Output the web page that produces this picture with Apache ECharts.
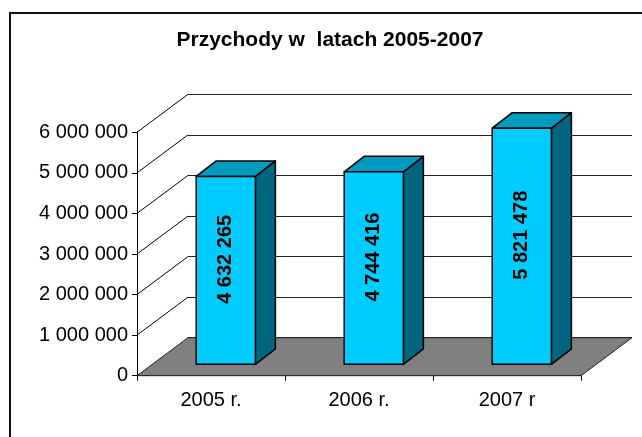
<!DOCTYPE html>
<html>
<head>
<meta charset="utf-8">
<script src="https://cdn.jsdelivr.net/npm/echarts@6/dist/echarts.min.js"></script>
<style>
html, body { margin: 0; padding: 0; background: #fff; }
#chart { width: 642px; height: 437px; }
</style>
</head>
<body>
<div id="chart"></div>
<script>
const categories = ['2005 r.', '2006 r.', '2007 r']
const revenue = [4632265, 4744416, 5821478]
const yTicks = [0, 1000000, 2000000, 3000000, 4000000, 5000000, 6000000]
const titleText = 'Przychody w  latach 2005-2007'

const FONT = '"Liberation Sans", Arial, sans-serif'
// depth of the floor / side wall
const WALL_DX = 51
const WALL_DY = -38
// depth of a bar, and how far its front face sits inside the box
const BAR_DX = 20
const BAR_DY = -15.5
const BAR_SX = 14.8
const BAR_SY = -11.4

function fmt(v) {
  return String(v).replace(/\B(?=(\d{3})+(?!\d))/g, ' ')
}

let chart = echarts.init(document.getElementById('chart'))

function renderFloor(params, api) {
  let cs = params.coordSys
  let y = api.coord([0, 0])[1]
  let x0 = cs.x
  let x1 = cs.x + cs.width
  return {
    type: 'polygon',
    shape: { points: [[x0, y], [x0 + WALL_DX, y + WALL_DY], [x1 + WALL_DX, y + WALL_DY], [x1, y]] },
    style: { fill: '#808080', stroke: '#222', lineWidth: 1 },
  }
}

function renderWall(params, api) {
  let y = api.coord([0, api.value(1)])[1]
  let x0 = params.coordSys.x
  return {
    type: 'line',
    shape: { x1: x0, y1: y, x2: x0 + WALL_DX, y2: y + WALL_DY },
    style: { stroke: '#000', lineWidth: 1 },
  }
}

function renderBar(params, api) {
  let i = api.value(0)
  let v = api.value(1)
  let base = api.coord([i, 0])
  let top = api.coord([i, v])
  let w = api.size([1, 0])[0] * 0.4
  let x1 = base[0] - w / 2 + BAR_SX
  let x2 = x1 + w
  let yb = base[1] + BAR_SY
  let yt = top[1] + BAR_SY
  let edge = { stroke: '#000', lineWidth: 1.5, lineJoin: 'round' }
  return {
    type: 'group',
    children: [
      {
        type: 'polygon',
        shape: { points: [[x2, yt], [x2 + BAR_DX, yt + BAR_DY], [x2 + BAR_DX, yb + BAR_DY], [x2, yb]] },
        style: { fill: '#006680', ...edge },
      },
      {
        type: 'polygon',
        shape: { points: [[x1, yt], [x1 + BAR_DX, yt + BAR_DY], [x2 + BAR_DX, yt + BAR_DY], [x2, yt]] },
        style: { fill: '#0099C0', ...edge },
      },
      {
        type: 'rect',
        shape: { x: x1, y: yt, width: w, height: yb - yt },
        style: { fill: '#00CCFF', ...edge },
      },
      {
        type: 'text',
        x: (x1 + x2) / 2,
        y: (yt + yb) / 2 - 11,
        rotation: Math.PI / 2,
        style: {
          text: fmt(v),
          font: 'bold 20px ' + FONT,
          fill: '#000',
          align: 'center',
          verticalAlign: 'middle',
        },
      },
    ],
  }
}

let option = {
  animation: false,
  backgroundColor: '#fff',
  graphic: [
    {
      type: 'rect',
      shape: { x: 10, y: 13, width: 700, height: 500 },
      style: { fill: 'none', stroke: '#111', lineWidth: 2 },
      z: 10,
    },
    {
      type: 'text',
      x: 330,
      y: 40,
      style: {
        text: titleText,
        font: 'bold 21px ' + FONT,
        fill: '#000',
        align: 'center',
        verticalAlign: 'middle',
      },
    },
  ],
  grid: [
    { left: 137, top: 132.3, width: 444, height: 243.4 },
    { left: 188, top: 94.3, width: 444, height: 243.4 },
  ],
  xAxis: [
    {
      type: 'category',
      gridIndex: 0,
      data: categories,
      axisLine: { show: true, lineStyle: { color: '#000', width: 1 } },
      axisTick: { show: true, length: 5, lineStyle: { color: '#000' } },
      axisLabel: { color: '#000', fontSize: 20, fontFamily: FONT, margin: 15 },
      splitLine: { show: false },
    },
    {
      type: 'category',
      gridIndex: 1,
      data: categories,
      show: false,
    },
  ],
  yAxis: [
    {
      type: 'value',
      gridIndex: 0,
      min: yTicks[0],
      max: yTicks[yTicks.length - 1],
      interval: yTicks[1] - yTicks[0],
      axisLine: { show: true, lineStyle: { color: '#000', width: 1 } },
      axisTick: { show: true, length: 5, lineStyle: { color: '#000' } },
      axisLabel: { color: '#000', fontSize: 20, fontFamily: FONT, margin: 9, formatter: fmt },
      splitLine: { show: false },
    },
    {
      type: 'value',
      gridIndex: 1,
      min: yTicks[0],
      max: yTicks[yTicks.length - 1],
      interval: yTicks[1] - yTicks[0],
      axisLine: { show: false },
      axisTick: { show: false },
      axisLabel: { show: false },
      splitLine: { show: true, lineStyle: { color: '#222', width: 1 } },
    },
  ],
  series: [
    {
      type: 'custom',
      name: 'floor',
      xAxisIndex: 0,
      yAxisIndex: 0,
      z: 1,
      silent: true,
      renderItem: renderFloor,
      data: [[0, yTicks[0]]],
    },
    {
      type: 'custom',
      name: 'wall',
      xAxisIndex: 0,
      yAxisIndex: 0,
      z: 1,
      silent: true,
      renderItem: renderWall,
      data: yTicks.slice(1).map((v) => [0, v]),
    },
    {
      type: 'custom',
      name: 'Przychody',
      xAxisIndex: 0,
      yAxisIndex: 0,
      z: 3,
      renderItem: renderBar,
      data: revenue.map((v, i) => [i, v]),
    },
  ],
}

chart.setOption(option)
</script>
</body>
</html>
